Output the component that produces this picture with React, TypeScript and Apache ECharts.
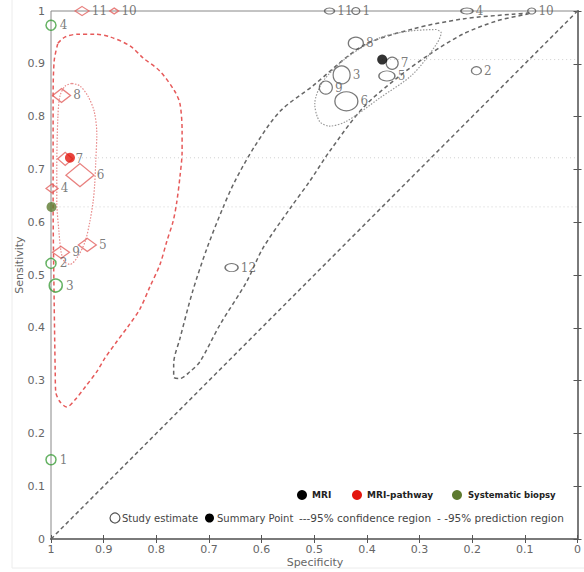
import React, { useEffect, useRef } from "react";
import * as echarts from "echarts";

// ---- Data (specificity, sensitivity) ----
const mriIds = ["11", "1", "4", "10", "8", "7", "3", "5", "9", "6", "2", "12"];
const mriSpec = [0.471, 0.421, 0.21, 0.087, 0.421, 0.352, 0.448, 0.362, 0.478, 0.439, 0.192, 0.657];
const mriSens = [1, 1, 1, 1, 0.939, 0.901, 0.879, 0.877, 0.855, 0.829, 0.887, 0.514];
const mriMarker = [[10, 6], [8, 7], [12, 6], [8, 6], [15, 12], [12, 12], [17, 18], [16, 10], [13, 13], [23, 19], [10, 8], [13, 8]];

const pathIds = ["11", "10", "8", "7", "6", "4", "5", "9"];
const pathSpec = [0.941, 0.88, 0.98, 0.973, 0.945, 0.998, 0.931, 0.981];
const pathSens = [1, 1, 0.84, 0.72, 0.689, 0.664, 0.557, 0.543];
const pathMarker = [[14, 9], [9, 6], [18, 14], [15, 13], [28, 23], [12, 9], [18, 13], [17, 12]];

const sysIds = ["4", "2", "3", "1"];
const sysSpec = [1, 1, 0.991, 1];
const sysSens = [0.973, 0.522, 0.48, 0.15];
const sysMarker = [[10, 10], [10, 10], [13, 13], [10, 10]];

const summaryNames = ["MRI", "MRI-pathway", "Systematic biopsy"];
const summarySpec = [0.371, 0.964, 0.999];
const summarySens = [0.908, 0.722, 0.629];

// regions: [specificity, sensitivity]
const mriConfRegion = [
  [0.268, 0.965], [0.319, 0.962], [0.376, 0.949], [0.439, 0.911], [0.483, 0.867], [0.499, 0.824],
  [0.49, 0.791], [0.471, 0.782], [0.439, 0.791], [0.376, 0.835], [0.313, 0.88], [0.268, 0.937], [0.259, 0.959],
];
const mriPredRegion = [
  [0.091, 0.996], [0.123, 0.994], [0.218, 0.985], [0.313, 0.966], [0.408, 0.934], [0.503, 0.858],
  [0.565, 0.81], [0.613, 0.744], [0.651, 0.677], [0.674, 0.626], [0.704, 0.55], [0.731, 0.469],
  [0.755, 0.38], [0.767, 0.332], [0.767, 0.307], [0.755, 0.304], [0.736, 0.317], [0.717, 0.336],
  [0.679, 0.406], [0.628, 0.488], [0.598, 0.55], [0.546, 0.626], [0.509, 0.677], [0.471, 0.734],
  [0.408, 0.816], [0.343, 0.873], [0.281, 0.918], [0.218, 0.956], [0.154, 0.981], [0.097, 0.994],
];
const pathConfRegion = [
  [0.96, 0.863], [0.945, 0.858], [0.93, 0.839], [0.918, 0.81], [0.913, 0.767], [0.915, 0.715],
  [0.917, 0.672], [0.92, 0.639], [0.926, 0.602], [0.935, 0.564], [0.949, 0.535], [0.964, 0.52],
  [0.975, 0.526], [0.981, 0.545], [0.985, 0.583], [0.989, 0.639], [0.989, 0.702], [0.987, 0.797],
  [0.983, 0.839], [0.973, 0.858],
];
const pathPredRegion = [
  [0.987, 0.939], [0.973, 0.951], [0.949, 0.956], [0.917, 0.956], [0.888, 0.951], [0.85, 0.934],
  [0.825, 0.911], [0.793, 0.886], [0.765, 0.848], [0.755, 0.824], [0.751, 0.772], [0.751, 0.734],
  [0.755, 0.687], [0.761, 0.639], [0.768, 0.602], [0.78, 0.564], [0.793, 0.52], [0.812, 0.478],
  [0.831, 0.436], [0.854, 0.402], [0.875, 0.374], [0.898, 0.342], [0.913, 0.317], [0.935, 0.288],
  [0.954, 0.264], [0.97, 0.25], [0.983, 0.26], [0.991, 0.279], [0.992, 0.317], [0.994, 0.45],
  [0.996, 0.639], [0.996, 0.829], [0.994, 0.905],
];
const chanceLine = [[1, 0], [0, 1]];

const axisTicks = [0, 0.1, 0.2, 0.3, 0.4, 0.5, 0.6, 0.7, 0.8, 0.9, 1];

const GREY = "#555";
const RED_LIGHT = "#e2605e";
const RED = "#e3160e";
const GREEN_LIGHT = "#3f9f3c";
const OLIVE = "#5d7a2f";

function studies(ids: string[], spec: number[], sens: number[], sizes: number[][]) {
  return ids.map((id, i) => ({ name: id, value: [spec[i], sens[i]], symbolSize: sizes[i] }));
}
function closed(pts: number[][]) {
  return [...pts, pts[0]];
}

export default function App() {
  const ref = useRef<HTMLDivElement>(null);
  useEffect(() => {
    document.body.style.margin = "0";
    const chart = echarts.init(ref.current!, null, { renderer: "svg" });
    const labelStyle = {
      show: true,
      position: "right" as const,
      distance: 2,
      formatter: "{b}",
      fontFamily: "DejaVu Serif",
      fontSize: 12,
      color: "#5a5a5a",
    };
    const tickLabel = { fontFamily: "DejaVu Sans", fontSize: 11, color: "#666" };
    const xBase = { type: "value" as const, min: 0, max: 1, interval: 0.1, inverse: true };
    const yBase = { type: "value" as const, min: 0, max: 1, interval: 0.1 };
    const fmt = (v: number) => {
      const idx = axisTicks.findIndex((t) => Math.abs(t - v) < 1e-6);
      return idx >= 0 ? String(axisTicks[idx]) : "";
    };
    const summaryColors = ["#000", RED, OLIVE];
    const axisLineStyle = { show: true, lineStyle: { color: "#7a7a7a", width: 2 } };

    chart.setOption({
      animation: false,
      grid: { left: 51, right: 5, top: 11, bottom: 33, show: true, borderColor: "#888", borderWidth: 1 },
      xAxis: [
        {
          ...xBase,
          axisLine: axisLineStyle,
          axisTick: { show: true, length: 4, lineStyle: { color: "#555" } },
          axisLabel: { ...tickLabel, margin: 5, formatter: fmt },
          splitLine: { show: false },
        },
        {
          ...xBase,
          position: "bottom",
          axisLine: axisLineStyle,
          axisTick: { show: true, inside: true, length: 4, lineStyle: { color: "#555" } },
          axisLabel: { show: false },
          splitLine: { show: false },
        },
      ],
      yAxis: [
        {
          ...yBase,
          axisLine: axisLineStyle,
          axisTick: { show: true, length: 4, lineStyle: { color: "#555" } },
          axisLabel: { ...tickLabel, margin: 6, formatter: fmt },
          splitLine: { show: false },
        },
        {
          ...yBase,
          position: "left",
          axisLine: axisLineStyle,
          axisTick: { show: true, inside: true, length: 4, lineStyle: { color: "#555" } },
          axisLabel: { show: false },
          splitLine: { show: false },
        },
      ],
      series: [
        // horizontal reference lines from summary points
        ...summaryNames.map((n, i) => ({
          type: "line",
          name: n + "-ref",
          data: [[summarySpec[i], summarySens[i]], [0, summarySens[i]]],
          showSymbol: false,
          silent: true,
          lineStyle: { color: "#cfcfcf", width: 1, type: [1, 3] },
          z: 1,
        })),
        {
          type: "line",
          data: chanceLine,
          showSymbol: false,
          lineStyle: { color: "#666", width: 1.5, type: [4, 3] },
          z: 2,
        },
        {
          type: "line",
          data: closed(mriPredRegion),
          smooth: 0.3,
          showSymbol: false,
          lineStyle: { color: "#666", width: 1.5, type: [4, 3] },
          z: 2,
        },
        {
          type: "line",
          data: closed(mriConfRegion),
          smooth: 0.3,
          showSymbol: false,
          lineStyle: { color: "#999", width: 1.2, type: [1.5, 1.5] },
          z: 2,
        },
        {
          type: "line",
          data: closed(pathPredRegion),
          smooth: 0.3,
          showSymbol: false,
          lineStyle: { color: "#e65a5a", width: 1.5, type: [4, 3] },
          z: 2,
        },
        {
          type: "line",
          data: closed(pathConfRegion),
          smooth: 0.3,
          showSymbol: false,
          lineStyle: { color: "#e88a8a", width: 1.2, type: [1.5, 1.5] },
          z: 2,
        },
        {
          type: "scatter",
          name: "MRI studies",
          clip: false,
          symbol: "circle",
          data: studies(mriIds, mriSpec, mriSens, mriMarker),
          itemStyle: { color: "rgba(255,255,255,0)", borderColor: GREY, borderWidth: 1.2 },
          label: labelStyle,
          z: 5,
        },
        {
          type: "scatter",
          name: "MRI-pathway studies",
          clip: false,
          symbol: "diamond",
          data: studies(pathIds, pathSpec, pathSens, pathMarker),
          itemStyle: { color: "rgba(255,255,255,0)", borderColor: RED_LIGHT, borderWidth: 1.3 },
          label: labelStyle,
          z: 5,
        },
        {
          type: "scatter",
          name: "Systematic studies",
          clip: false,
          symbol: "circle",
          data: studies(sysIds, sysSpec, sysSens, sysMarker),
          itemStyle: { color: "rgba(255,255,255,0)", borderColor: GREEN_LIGHT, borderWidth: 1.5 },
          label: { ...labelStyle, distance: 3 },
          z: 5,
        },
        {
          type: "scatter",
          name: "Summary",
          clip: false,
          symbol: "circle",
          symbolSize: 10,
          data: summaryNames.map((n, i) => ({
            name: n,
            value: [summarySpec[i], summarySens[i]],
            itemStyle: { color: summaryColors[i] },
          })),
          z: 6,
        },
      ],
      graphic: [
        {
          type: "rect",
          shape: { x: 12, y: -2, width: 580, height: 570 },
          style: { fill: "none", stroke: "#ececec", lineWidth: 1 },
          silent: true,
        },
        {
          type: "text",
          x: 315,
          y: 562,
          style: { text: "Specificity", fontFamily: "DejaVu Sans", fontSize: 11, fill: "#666", align: "center", verticalAlign: "middle" },
        },
        {
          type: "text",
          x: 19,
          y: 265,
          rotation: Math.PI / 2,
          style: { text: "Sensitivity", fontFamily: "DejaVu Sans", fontSize: 11, fill: "#666", align: "center", verticalAlign: "middle" },
        },
        // legend row 1
        { type: "circle", shape: { cx: 302, cy: 495, r: 5 }, style: { fill: "#000" } },
        { type: "text", x: 312, y: 495, style: { text: "MRI", fontFamily: "DejaVu Sans", fontWeight: "bold", fontSize: 9, fill: "#222", verticalAlign: "middle" } },
        { type: "circle", shape: { cx: 357, cy: 495, r: 5 }, style: { fill: RED } },
        { type: "text", x: 367, y: 495, style: { text: "MRI-pathway", fontFamily: "DejaVu Sans", fontWeight: "bold", fontSize: 9, fill: "#222", verticalAlign: "middle" } },
        { type: "circle", shape: { cx: 457, cy: 495, r: 5 }, style: { fill: OLIVE } },
        { type: "text", x: 468, y: 495, style: { text: "Systematic biopsy", fontFamily: "DejaVu Sans", fontWeight: "bold", fontSize: 8.5, fill: "#222", verticalAlign: "middle" } },
        // legend row 2
        { type: "circle", shape: { cx: 115, cy: 518, r: 5 }, style: { fill: "none", stroke: GREY, lineWidth: 1.2 } },
        { type: "text", x: 122, y: 518, style: { text: "Study estimate", fontFamily: "DejaVu Sans", fontSize: 10, fill: "#444", verticalAlign: "middle" } },
        { type: "circle", shape: { cx: 209.5, cy: 518, r: 4.5 }, style: { fill: "#000" } },
        { type: "text", x: 217, y: 518, style: { text: "Summary Point", fontFamily: "DejaVu Sans", fontSize: 10, fill: "#444", verticalAlign: "middle" } },
        { type: "text", x: 299, y: 518, style: { text: "---95% confidence region", fontFamily: "DejaVu Sans", fontSize: 10.5, fill: "#444", verticalAlign: "middle" } },
        { type: "text", x: 437, y: 518, style: { text: "- -95% prediction region", fontFamily: "DejaVu Sans", fontSize: 10.5, fill: "#444", verticalAlign: "middle" } },
      ],
    });
    return () => chart.dispose();
  }, []);
  return <div ref={ref} style={{ width: 584, height: 572 }} />;
}
